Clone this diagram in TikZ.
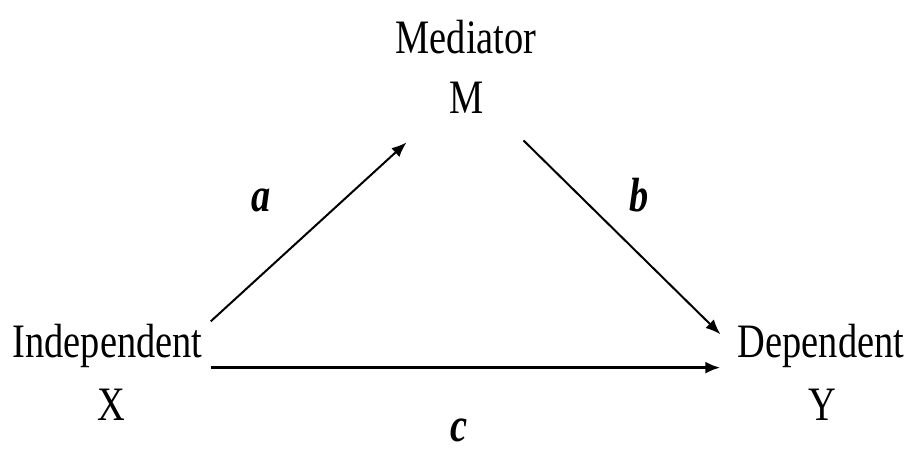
\documentclass[tikz,border=0pt]{standalone}
\usepackage{fontspec}
\setmainfont{Liberation Serif}[FakeStretch=0.8]
\usepackage{tikz}
\usetikzlibrary{arrows.meta,calc}
\tikzset{var/.style={anchor=base,inner sep=0pt,font=\fontsize{24}{30}\selectfont},
 coef/.style={var,font=\fontsize{24}{30}\selectfont\bfseries\itshape},
 path/.style={-{Latex[length=7.5pt,width=6pt]},line width=1pt},
 direct/.style={path,line width=1.6pt}}

\begin{document}
\begin{tikzpicture}[x=0.5pt,y=0.5pt]
\useasboundingbox (0,0) rectangle (912,452);
\node[var] (med) at (466,399) {Mediator};
\node[var] (mvar) at (467,339) {M};
\node[var] (ind) at (107.5,95) {Independent};
\node[var] (xvar) at (111,32) {X};
\node[var] (dep) at (821,95) {Dependent};
\node[var] (yvar) at (822,32) {Y};
\node[coef] (la) at (261,241) {a};
\node[coef] (lb) at (639,241) {b};
\node[coef] (lc) at (459,11) {c};
\draw[path] ([shift={(4pt,1pt)}]ind.north east) -- ([shift={(-21.5pt,-14.5pt)}]mvar.south west);
\draw[path] ([shift={(19.5pt,-13.5pt)}]mvar.south east) -- ([shift={(-8.5pt,-5.5pt)}]dep.north west);
\draw[direct] ([xshift=4pt]ind.south east) -- ([xshift=-8.5pt]dep.south west);
\end{tikzpicture}
\end{document}
